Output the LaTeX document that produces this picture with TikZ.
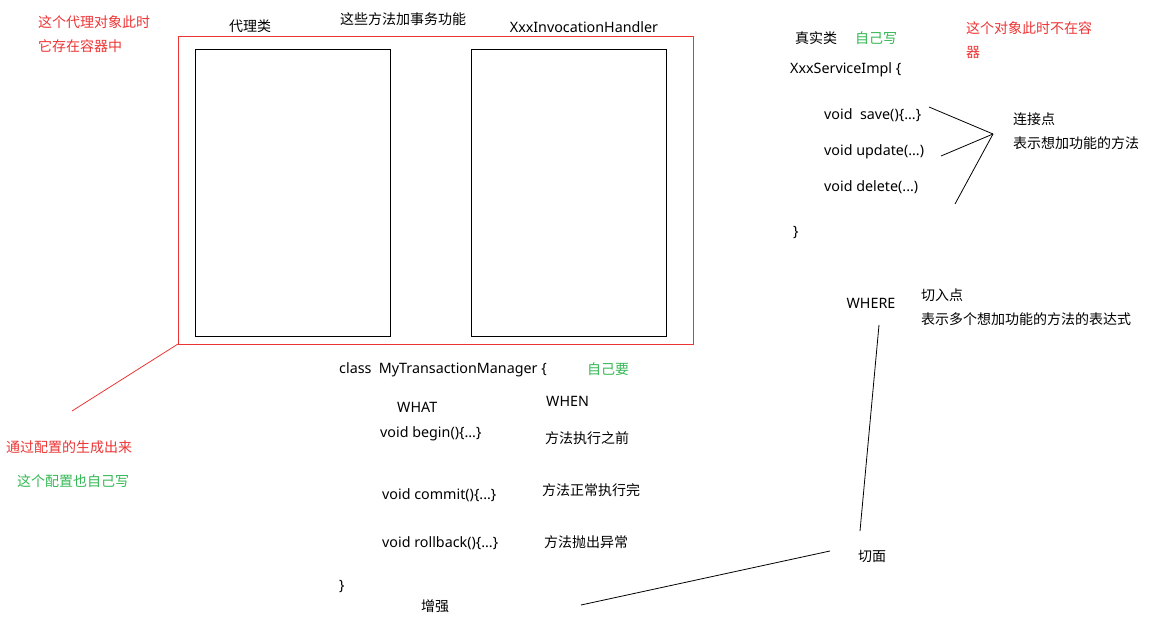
\documentclass[tikz,border=0pt]{standalone}
\usepackage{fontspec}
\setmainfont{Noto Sans}
\newfontfamily\cjk{Noto Sans CJK SC}
\usepackage{tikz}
\usetikzlibrary{calc}
\definecolor{notered}{RGB}{236,52,52}
\definecolor{notegreen}{RGB}{52,184,84}
\tikzset{
  txt/.style={anchor=west, inner sep=0pt, font=\fontsize{14.3}{16}\selectfont},
  ztxt/.style={anchor=west, inner sep=0pt, font=\cjk\fontsize{14}{16}\selectfont},
  redtxt/.style={ztxt, text=notered},
  greentxt/.style={ztxt, text=notegreen},
  pen/.style={line width=0.8pt}
}
\begin{document}
\begin{tikzpicture}[x=1pt,y=-1pt]
        \useasboundingbox (0,0) rectangle (1154,631);
        % proxy class
        \draw [notered, pen] (178,36) rectangle (693,344);
        \draw [pen] (195,49) rectangle (390,336);
        \draw [pen] (471,49) rectangle (666,336);
        \node[ztxt, anchor=center] (proxy) at (250,26) {代理类};
        \node[ztxt, anchor=center] (addtx) at (403,19) {这些方法加事务功能};
        \node[txt, anchor=center] (handler) at (584,27) {XxxInvocationHandler};
        \node[redtxt] (inbox1) at (38,22) {这个代理对象此时};
        \node[redtxt] (inbox2) at (38,46) {它存在容器中};
        \coordinate (boxcorner) at (178,344);
        \node[redtxt] (gen) at (6,447) {通过配置的生成出来};
        \node[greentxt] (selfcfg) at (17,481) {这个配置也自己写};
        \draw [notered, pen] (boxcorner) -- (72,411);
        % transaction manager
        \node[txt] (tmclass) at (339,370) {class\ \ MyTransactionManager \{};
        \node[greentxt] (selfneed) at (587,369) {自己要};
        \node[txt] (what) at (397,407) {WHAT};
        \node[txt] (when) at (546,401) {WHEN};
        \node[txt] (begin) at (380,434) {void begin()\{...\}};
        \node[ztxt] (before) at (545,438) {方法执行之前};
        \node[txt] (commit) at (382,495) {void commit()\{...\}};
        \node[ztxt] (after) at (542,490) {方法正常执行完};
        \node[txt] (rollback) at (382,543) {void rollback()\{...\}};
        \node[ztxt] (thrown) at (544,542) {方法抛出异常};
        \node[txt] (tmend) at (339,587) {\}};
        \node[ztxt, anchor=center] (advice) at (435,606) {增强};
        % aspect
        \node[ztxt, anchor=center] (aspect) at (872,556) {切面};
        \node[txt, anchor=center] (where) at (871,303) {WHERE};
        \node[ztxt] (pointcut) at (921,295) {切入点};
        \node[ztxt] (pcdesc) at (921,319) {表示多个想加功能的方法的表达式};
        \coordinate (adviceend) at (581,605);
        \coordinate (aspectin) at (830,551);
        \coordinate (aspecttop) at (860,531);
        \coordinate (wherebot) at (879,325);
        \draw [pen] (adviceend) -- (aspectin);
        \draw [pen] (aspecttop) -- (wherebot);
        % real class
        \node[ztxt] (real) at (795,38) {真实类};
        \node[greentxt] (selfwrite) at (855,38) {自己写};
        \node[redtxt] (notin1) at (966,28) {这个对象此时不在容};
        \node[redtxt] (notin2) at (966,52) {器};
        \node[txt] (impl) at (790,70) {XxxServiceImpl \{};
        \node[txt] (save) at (824,115) {void\ \ save()\{...\}};
        \node[txt] (update) at (824,152) {void update(...)};
        \node[txt] (delete) at (824,187) {void delete(...)};
        \node[txt] (implend) at (793,233) {\}};
        \node[ztxt] (joinpt) at (1013,119) {连接点};
        \node[ztxt] (jpdesc) at (1013,143) {表示想加功能的方法};
        \coordinate (jp) at (993,134);
        \draw [pen] (929,107) -- (jp);
        \draw [pen] (941,156) -- (jp);
        \draw [pen] (955,204) -- (jp);
\end{tikzpicture}
\end{document}
